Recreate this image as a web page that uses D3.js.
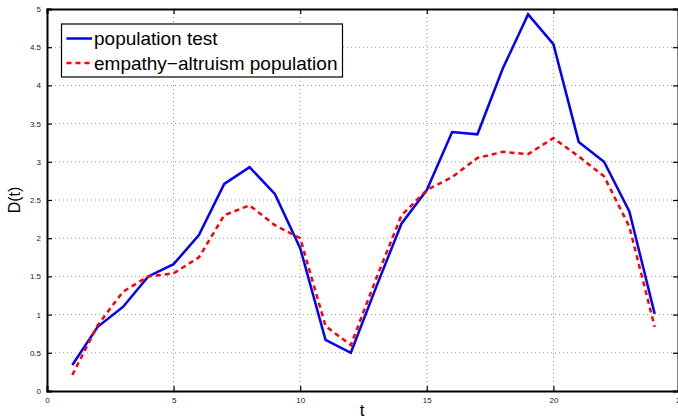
<!DOCTYPE html>
<html><head><meta charset="utf-8">
<script src="https://cdn.jsdelivr.net/npm/d3@7"></script>
<style>body{margin:0;background:#fff;}svg{display:block;font-family:"Liberation Sans",Arial,sans-serif;}</style>
</head><body><svg id="c" width="678" height="418"></svg>
<script>
const tValues = [1,2,3,4,5,6,7,8,9,10,11,12,13,14,15,16,17,18,19,20,21,22,23,24];
const populationTest = [0.34,0.84,1.10,1.50,1.66,2.04,2.71,2.93,2.58,1.87,0.67,0.50,1.36,2.19,2.63,3.39,3.36,4.22,4.93,4.54,3.26,3.00,2.35,1.01];
const empathyAltruism = [0.21,0.86,1.30,1.50,1.54,1.75,2.30,2.43,2.17,2.00,0.85,0.60,1.47,2.30,2.63,2.80,3.05,3.13,3.10,3.31,3.07,2.81,2.15,0.84];
const xTicks = [0,5,10,15,20,25];
const yTicks = [0,0.5,1,1.5,2,2.5,3,3.5,4,4.5,5];
const legendLabels = ["population test","empathy\u2212altruism population"];

const svg = d3.select("#c");
const L=47, R=680, T=9, B=391;
const x = d3.scaleLinear().domain([0,25]).range([L,R]);
const y = d3.scaleLinear().domain([0,5]).range([B,T]);

// grid
const g = svg.append("g");
g.selectAll(".gx").data(xTicks.slice(1,-1)).join("line")
 .attr("x1",d=>x(d)).attr("x2",d=>x(d)).attr("y1",T).attr("y2",B)
 .attr("stroke","#999").attr("stroke-width",1).attr("stroke-dasharray","1,3");
g.selectAll(".gy").data(yTicks.slice(1,-1)).join("line")
 .attr("y1",d=>y(d)).attr("y2",d=>y(d)).attr("x1",L).attr("x2",R)
 .attr("stroke","#999").attr("stroke-width",1).attr("stroke-dasharray","1,3");

// axes
const ax = d3.axisBottom(x).tickValues(xTicks).tickSize(-5).tickPadding(9).tickFormat(d3.format("d"));
const ay = d3.axisLeft(y).tickValues(yTicks).tickSize(-5).tickPadding(6).tickFormat(d=>d);
const gx = svg.append("g").attr("transform",`translate(0,${B})`).call(ax);
const gy = svg.append("g").attr("transform",`translate(${L},0)`).call(ay);
const gx2 = svg.append("g").attr("transform",`translate(0,${T})`).call(d3.axisTop(x).tickValues(xTicks).tickSize(-5).tickFormat(""));
const gy2 = svg.append("g").attr("transform",`translate(${R-2},0)`).call(d3.axisRight(y).tickValues(yTicks).tickSize(-5).tickFormat(""));
[gx,gy,gx2,gy2].forEach(a=>{
  a.select(".domain").attr("stroke","#000").attr("stroke-width",2);
  a.selectAll(".tick line").attr("stroke","#000").attr("stroke-width",1.2);
  a.selectAll(".tick text").attr("font-size",8).attr("fill","#222").attr("font-family","Liberation Sans,Arial,sans-serif");
});
gx.selectAll(".tick text").attr("dy","0.35em");

// lines
const line = d3.line().x((d,i)=>x(tValues[i])).y(d=>y(d));
svg.append("path").datum(populationTest).attr("d",line).attr("fill","none")
 .attr("stroke","#0000ff").attr("stroke-width",2.5).attr("stroke-linejoin","miter");
svg.append("path").datum(empathyAltruism).attr("d",line).attr("fill","none")
 .attr("stroke","#ff0000").attr("stroke-width",2.5).attr("stroke-dasharray","5,4");

// labels
svg.append("text").attr("x",362).attr("y",416).attr("text-anchor","middle").attr("font-size",17).text("t");
svg.append("text").attr("transform","translate(20,200) rotate(-90)").attr("text-anchor","middle").attr("font-size",16).text("D(t)");

// legend
const lg = svg.append("g");
lg.append("rect").attr("x",61.5).attr("y",24).attr("width",281).attr("height",53).attr("fill","#fff").attr("stroke","#000").attr("stroke-width",1.2);
const colors=["#0000ff","#ff0000"], dashes=[null,"5,4"];
legendLabels.forEach((lab,i)=>{
  const cy = 38.5 + i*24.5;
  lg.append("line").attr("x1",66.5).attr("x2",92).attr("y1",cy).attr("y2",cy)
    .attr("stroke",colors[i]).attr("stroke-width",2.5).attr("stroke-dasharray",dashes[i]);
  lg.append("text").attr("x",94).attr("y",cy+6.5).attr("font-size",19).text(lab);
});
</script></body></html>
